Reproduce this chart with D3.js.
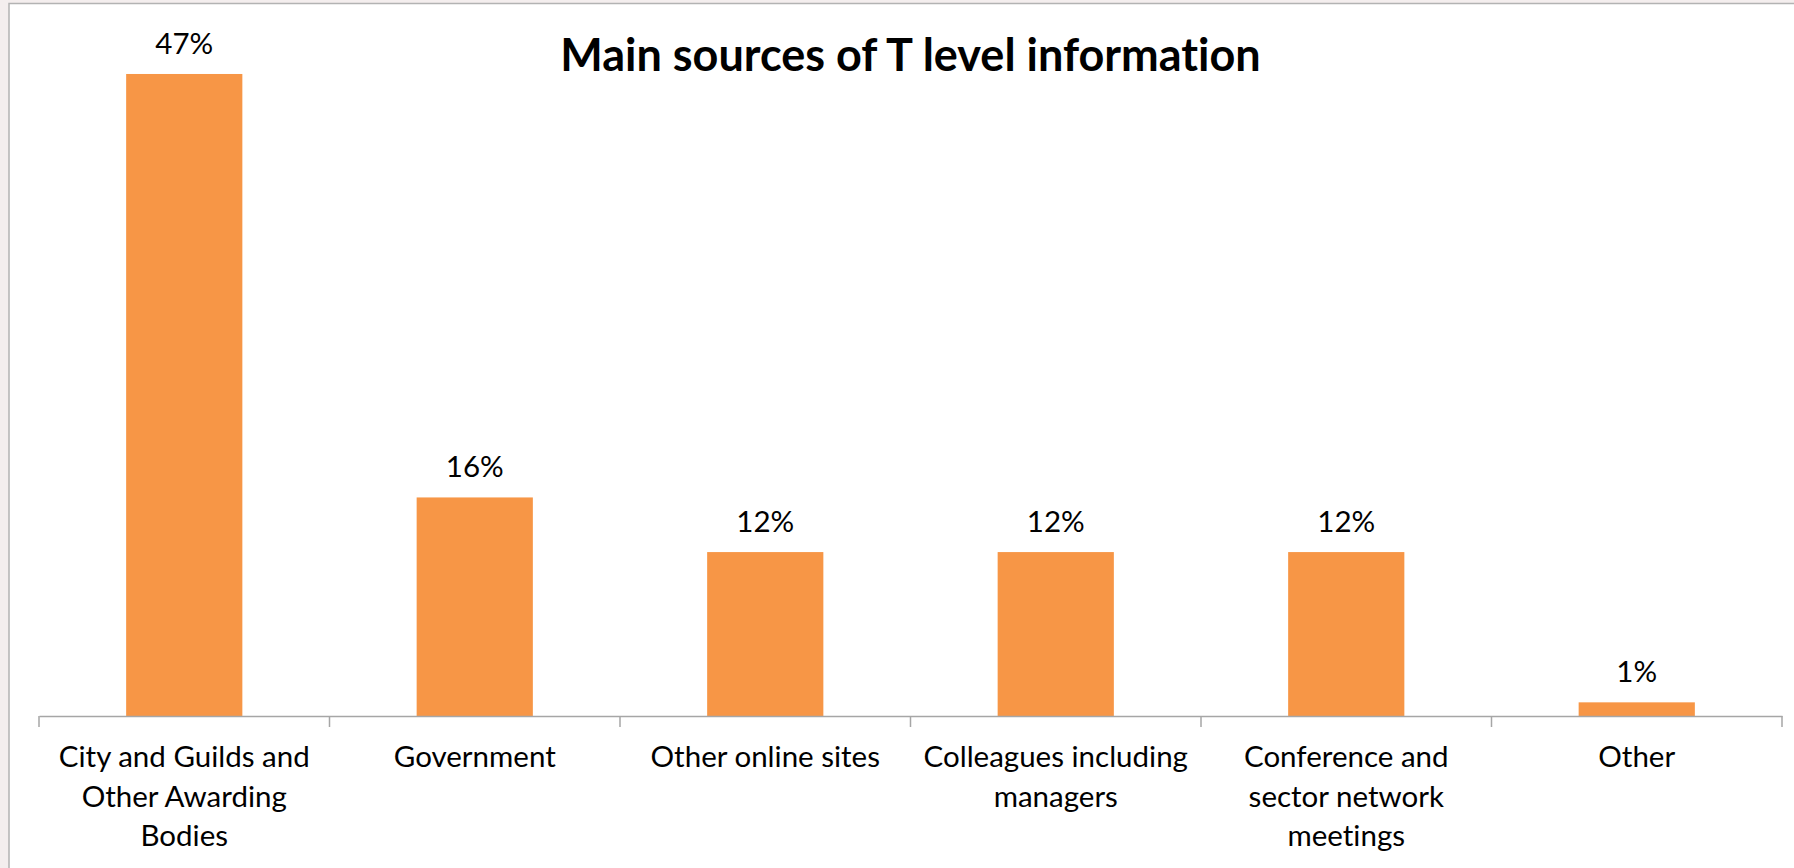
<!DOCTYPE html>
<html>
<head>
<meta charset="utf-8">
<script src="https://cdn.jsdelivr.net/npm/d3@7"></script>
<style>
  html, body { margin: 0; padding: 0; background: #f4eeee; }
  svg { display: block; }
  text { font-family: Lato, "Noto Sans", sans-serif; fill: #000; font-variant-ligatures: none; }
</style>
</head>
<body>
<svg id="chart" width="1794" height="868"></svg>
<script>
// Survey results: main sources of T level information (% of respondents)
const categories = [
  "City and Guilds and Other Awarding Bodies",
  "Government",
  "Other online sites",
  "Colleagues including managers",
  "Conference and sector network meetings",
  "Other"
];
const values = [47, 16, 12, 12, 12, 1];
const valueLabels = ["47%", "16%", "12%", "12%", "12%", "1%"];
const title = "Main sources of T level information";

const svg = d3.select("#chart");
const W = 1794, H = 868;

// chart frame (extends past the window on the right and bottom)
svg.append("rect")
  .attr("x", 9).attr("y", 3.5)
  .attr("width", W).attr("height", H)
  .attr("fill", "#ffffff")
  .attr("stroke", "#b3b3b3")
  .attr("stroke-width", 1.5);

const plot = { left: 39, right: 1782, top: 33, bottom: 716 };

const x = d3.scaleBand()
  .domain(categories)
  .range([plot.left, plot.right])
  .paddingInner(0.6)
  .paddingOuter(0.3);

const y = d3.scaleLinear()
  .domain([0, 50])
  .range([plot.bottom, plot.top]);

// title
svg.append("text")
  .attr("x", (plot.left + plot.right) / 2)
  .attr("y", 71)
  .attr("text-anchor", "middle")
  .style("font-size", "45px")
  .style("font-weight", "bold")
  .text(title);

// bars
svg.append("g").selectAll("rect")
  .data(values)
  .join("rect")
  .attr("x", (d, i) => x(categories[i]))
  .attr("y", d => y(d))
  .attr("width", x.bandwidth())
  .attr("height", d => y(0) - y(d))
  .attr("fill", "#f79646");

// value labels above bars
svg.append("g").selectAll("text")
  .data(values)
  .join("text")
  .attr("x", (d, i) => x(categories[i]) + x.bandwidth() / 2)
  .attr("y", d => y(d) - 20)
  .attr("text-anchor", "middle")
  .style("font-size", "29.5px")
  .text((d, i) => valueLabels[i]);

// category axis: baseline plus tick marks on the category boundaries
const axis = svg.append("g").attr("transform", `translate(0,${plot.bottom})`);
axis.call(d3.axisBottom(x).tickSize(0).tickFormat(""))
  .call(g => g.select(".domain")
    .attr("stroke", "#a6a6a6")
    .attr("stroke-width", 1.5));
axis.selectAll(".tick").remove();

const step = x.step();
const boundaries = d3.range(categories.length + 1).map(i => plot.left + i * step);
axis.selectAll("line.bound")
  .data(boundaries)
  .join("line")
  .attr("class", "bound")
  .attr("x1", d => d).attr("x2", d => d)
  .attr("y1", 0).attr("y2", 11)
  .attr("stroke", "#a6a6a6")
  .attr("stroke-width", 1.5);

// wrapped category labels
const maxLineWidth = 272;
const labelG = svg.append("g");
categories.forEach((name, i) => {
  const cx = x(name) + x.bandwidth() / 2;
  const t = labelG.append("text")
    .attr("x", cx)
    .attr("y", 767)
    .attr("text-anchor", "middle")
    .style("font-size", "29.5px");
  const words = name.split(" ");
  let line = [];
  let tspan = t.append("tspan").attr("x", cx).attr("dy", 0);
  words.forEach(w => {
    line.push(w);
    tspan.text(line.join(" "));
    if (tspan.node().getComputedTextLength() > maxLineWidth && line.length > 1) {
      line.pop();
      tspan.text(line.join(" "));
      line = [w];
      tspan = t.append("tspan")
        .attr("x", cx)
        .attr("dy", 39.5)
        .text(w);
    }
  });
});
</script>
</body>
</html>
